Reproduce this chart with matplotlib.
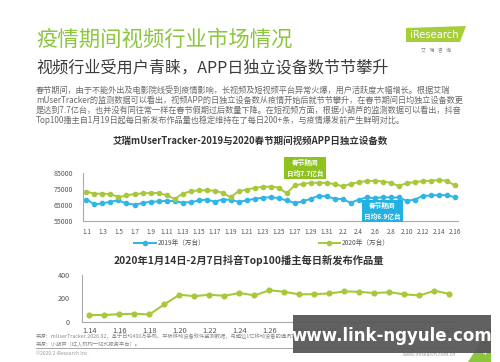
import matplotlib
matplotlib.use("Agg")
import matplotlib.pyplot as plt
from matplotlib.patches import Polygon, Rectangle
from matplotlib.lines import Line2D

plt.rcParams['font.family'] = ['Noto Sans CJK SC', 'DejaVu Sans']

# ---------------- data ----------------
top_dates = ([f"1.{d}" for d in range(1, 32)] + [f"2.{d}" for d in range(1, 17)])
series_2019 = [68400, 65400, 65900, 67100, 67800, 65900, 65200, 66100, 67000, 67200,
               67600, 67400, 66500, 66700, 67800, 68400, 67100, 68400, 68200, 67000,
               67800, 68900, 69500, 69900, 69300, 67800, 66300, 67200, 68900, 70800,
               70400, 68900, 68700, 66300, 68400, 69700, 69300, 69900, 69700, 69700,
               67600, 68400, 70600, 71000, 71200, 71200, 69900]
series_2020 = [73400, 72100, 72100, 71900, 69900, 71000, 71900, 72300, 72500, 72500,
               71200, 68700, 72100, 73600, 74200, 74200, 74000, 72700, 69900, 73600,
               74700, 75700, 76400, 76600, 76000, 72300, 77300, 78300, 79000, 79000,
               79000, 78100, 76800, 78300, 79400, 80100, 80300, 79800, 79000, 77000,
               78800, 79400, 80100, 80300, 80700, 80300, 77300]
top_yticks = [55000, 65000, 75000, 85000]
legend_labels = ["2019年（万台）", "2020年（万台）"]

bot_dates = ([f"1.{d}" for d in range(14, 32)] + [f"2.{d}" for d in range(1, 8)])
douyin_posts = [57, 57, 65, 68, 62, 150, 231, 219, 231, 222, 246, 225, 270, 256,
                234, 236, 242, 259, 256, 245, 253, 234, 225, 264, 239]
bot_yticks = [0, 200, 400]

title_main = "疫情期间视频行业市场情况"
subtitle = "视频行业受用户青睐，APP日独立设备数节节攀升"
body_lines = [
    "春节期间，由于不能外出及电影院线受到疫情影响，长视频及短视频平台异常火爆，用户活跃度大幅增长。根据艾瑞",
    "mUserTracker的监测数据可以看出，视频APP的日独立设备数从疫情开始后就节节攀升，在春节期间日均独立设备数更",
    "是达到7.7亿台，也并没有同往常一样在春节假期过后数量下降。在短视频方面，根据小葫芦的监测数据可以看出，抖音",
    "Top100播主自1月19日起每日新发布作品量也稳定维持在了每日200+条，与疫情爆发前产生鲜明对比。",
]
chart1_title = "艾瑞mUserTracker-2019与2020春节期间视频APP日独立设备数"
chart2_title = "2020年1月14日-2月7日抖音Top100播主每日新发布作品量"
box_green = "春节期间\n日均7.7亿台"
box_blue = "春节期间\n日均6.9亿台"
foot1 = "来源：mUserTracker.2020.02，基于日均400万手机、平板移动设备软件监测数据，与超过1亿移动设备的通讯协议数据共同计算得到。"
foot2 = "来源：小葫芦（红人机构一站式服务平台）。"
foot3 = "©2020.2 iResearch Inc."

# ---------------- style ----------------
W, H = 500, 362
GREEN = '#8DC21F'
LGREEN = '#A8C83A'
BLUE = '#2DB6E6'
GRAY_TXT = '#6a6a6a'
DARK = '#333333'

fig = plt.figure(figsize=(W / 100, H / 100), dpi=100)
fig.patch.set_facecolor('white')


def fx(x):
    return x / W


def fy(y):
    return 1 - y / H


def axes_px(left, top, right, bottom):
    return fig.add_axes([fx(left), fy(bottom), (right - left) / W, (bottom - top) / H])


# header
fig.text(fx(36), fy(40), title_main, fontsize=15.4, color='#8CC63F', va='center', ha='left')
fig.text(fx(36), fy(68), subtitle, fontsize=11.6, color='#3c3c3c', va='center', ha='left')

# logo
logo = Polygon([(fx(406), fy(28)), (fx(466), fy(26)), (fx(460), fy(42)), (fx(406), fy(42))],
               closed=True, transform=fig.transFigure, facecolor='#A6CE39', edgecolor='none')
fig.patches.append(logo)
fig.text(fx(434), fy(34.5), "iResearch", fontsize=7.2, color='white', va='center', ha='center',
         family=['DejaVu Sans'])
fig.text(fx(436), fy(51), "艾   瑞   咨   询", fontsize=3.6, color='#888888', va='center', ha='center')

# body text
for i, line in enumerate(body_lines):
    fig.text(fx(36), fy(90 + 10 * i), line, fontsize=5.9, color=GRAY_TXT, va='center', ha='left')

# ---------------- chart 1 ----------------
fig.text(fx(250), fy(141), chart1_title, fontsize=6.8, fontweight='bold', color=DARK,
         va='center', ha='center')

ax1 = axes_px(82.7, 173.3, 458, 220.7)
x1 = list(range(len(top_dates)))
ax1.plot(x1, series_2019, color=BLUE, lw=1.4, marker='o', ms=3.0, label=legend_labels[0])
ax1.plot(x1, series_2020, color=LGREEN, lw=1.4, marker='o', ms=3.0, label=legend_labels[1])
ax1.set_xlim(-0.47, 46.4)
ax1.set_ylim(55000, 85000)
ax1.set_yticks(top_yticks)
ax1.set_yticklabels([str(v) for v in top_yticks])
ax1.set_xticks(x1[::2])
ax1.set_xticklabels(top_dates[::2])
ax1.tick_params(axis='x', length=0, pad=5, labelsize=4.6, labelcolor='#555555')
ax1.tick_params(axis='y', length=0, pad=7, labelsize=5.0, labelcolor='#555555')
for s in ['top', 'right']:
    ax1.spines[s].set_visible(False)
for s in ['left', 'bottom']:
    ax1.spines[s].set_color('#aaaaaa')
    ax1.spines[s].set_linewidth(0.8)
ax1.patch.set_alpha(0)

leg = fig.legend(handles=ax1.get_lines(), labels=legend_labels, loc='center',
                 bbox_to_anchor=(fx(262), fy(243)), ncol=2, frameon=False,
                 fontsize=4.8, handlelength=3.2, columnspacing=17, handletextpad=0.3)
for t in leg.get_texts():
    t.set_color('#555555')

fig.text(fx(305), fy(168), box_green, fontsize=4.8, fontweight='bold', color='white',
         va='center', ha='center', linespacing=1.5,
         bbox=dict(boxstyle='square,pad=0.35', facecolor=GREEN, edgecolor='none'))
fig.text(fx(382.5), fy(211), box_blue, fontsize=4.8, fontweight='bold', color='white',
         va='center', ha='center', linespacing=1.5,
         bbox=dict(boxstyle='square,pad=0.35', facecolor='#22B1E3', edgecolor='none'))

# ---------------- chart 2 ----------------
fig.text(fx(249), fy(260), chart2_title, fontsize=7.4, fontweight='bold', color=DARK,
         va='center', ha='center')

ax2 = axes_px(82, 275, 458, 321.7)
x2 = list(range(len(bot_dates)))
ax2.plot(x2, douyin_posts, color=LGREEN, lw=1.5, marker='o', ms=3.4)
ax2.set_xlim(-0.5, 24.57)
ax2.set_ylim(0, 400)
ax2.set_yticks(bot_yticks)
ax2.set_yticklabels([str(v) for v in bot_yticks])
ax2.set_xticks(x2[::2])
ax2.set_xticklabels(bot_dates[::2])
ax2.tick_params(axis='x', length=0, pad=4, labelsize=5.4, labelcolor='#555555')
ax2.tick_params(axis='y', length=0, pad=9, labelsize=5.2, labelcolor='#555555')
for s in ['top', 'right']:
    ax2.spines[s].set_visible(False)
for s in ['left', 'bottom']:
    ax2.spines[s].set_color('#aaaaaa')
    ax2.spines[s].set_linewidth(0.8)
ax2.patch.set_alpha(0)

# footnotes
fig.text(fx(36), fy(335.7), foot1, fontsize=3.8, color='#888888', va='center', ha='left')
fig.text(fx(36), fy(344), foot2, fontsize=3.8, color='#888888', va='center', ha='left')
fig.lines.append(Line2D([fx(36), fx(458)], [fy(347.5), fy(347.5)], transform=fig.transFigure,
                        color='#999999', lw=0.6))
fig.text(fx(36), fy(353.3), foot3, fontsize=3.6, color='#999999', va='center', ha='left')
fig.text(fx(430), fy(354), "www.iresearch.com.cn", fontsize=3.6, color='#999999',
         va='center', ha='center')

# corner decoration
tri = Polygon([(fx(468), fy(362)), (fx(491), fy(326)), (fx(491), fy(362))], closed=True,
              transform=fig.transFigure, facecolor='#8CC63F', edgecolor='none', zorder=5)
fig.patches.append(tri)
fig.text(fx(485), fy(353), "4", fontsize=5, color='white', va='center', ha='center', zorder=6)

# watermark overlay
wm = Rectangle((fx(293), fy(353)), (491 - 293) / W, (353 - 315) / H, transform=fig.transFigure,
               facecolor='#585858', edgecolor='none', alpha=0.95, zorder=10)
fig.patches.append(wm)
fig.text(fx(392), fy(336), "www.link-ngyule.com", fontsize=12, fontweight='bold', color='white',
         va='center', ha='center', family=['DejaVu Sans'], zorder=11)

fig.savefig("out.png", dpi=100)
